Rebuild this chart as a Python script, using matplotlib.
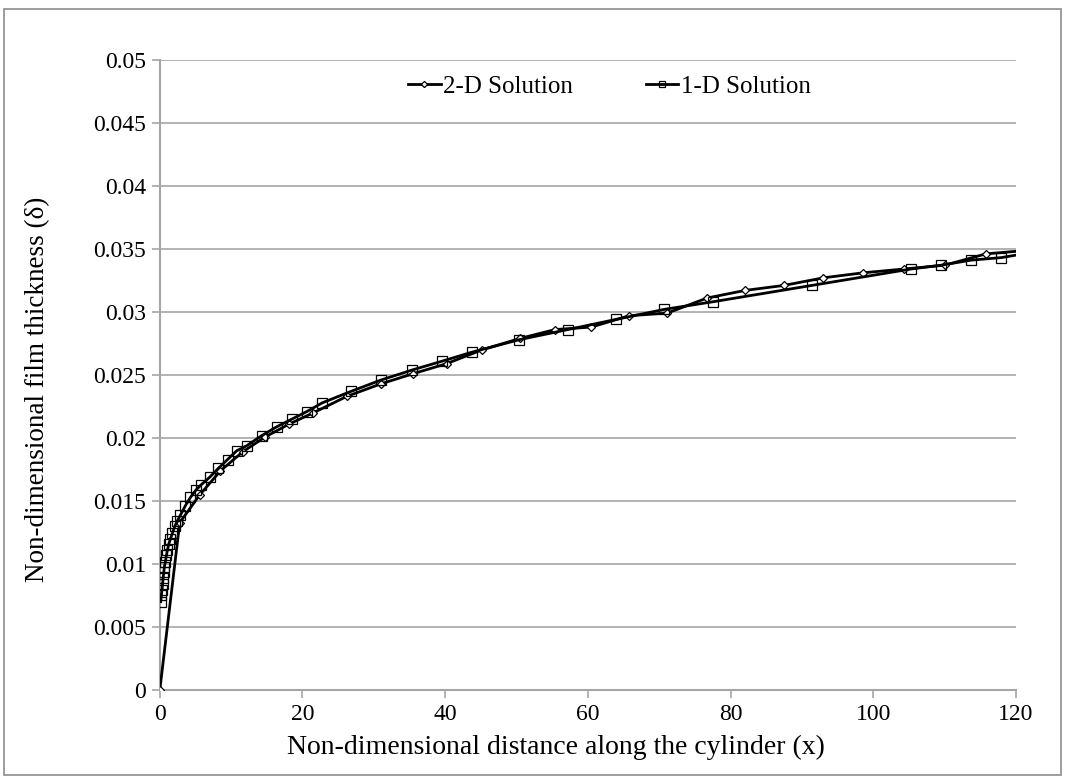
import matplotlib
matplotlib.use('Agg')
import matplotlib.pyplot as plt
from matplotlib.patches import Rectangle

plt.rcParams['font.family'] = ['Liberation Serif', 'DejaVu Serif']

# 2-D solution (diamonds)
x_2d = [0, 2.8, 5.6, 8.5, 11.6, 14.8, 18.1, 21.5, 26.2, 31.0, 35.5, 40.2, 45.2,
        50.5, 55.4, 60.5, 65.8, 71.1, 76.7, 82.0, 87.5, 93.0, 98.6, 104.3,
        110.0, 115.8, 120.0]
y_2d = [0, 0.0133, 0.0155, 0.0174, 0.0189, 0.0201, 0.0211, 0.0220, 0.0233,
        0.0243, 0.0251, 0.0259, 0.0270, 0.0279, 0.0286, 0.0288, 0.0297, 0.0299,
        0.0311, 0.0317, 0.0321, 0.0327, 0.0331, 0.0334, 0.0337, 0.0346, 0.0348]

# 1-D solution (squares)
x_1d = [0.14, 0.23, 0.33, 0.40, 0.47, 0.56, 0.65, 0.79, 0.93, 1.07, 1.26, 1.49,
        1.78, 2.1, 2.43, 2.9, 3.6, 4.3, 5.1, 5.8, 7.0, 8.2, 9.5, 10.8, 12.2,
        14.3, 16.4, 18.5, 20.6, 22.8, 26.8, 31.0, 35.4, 39.6, 43.7, 50.4, 57.2,
        63.9, 70.7, 77.5, 91.4, 105.3, 109.5, 113.7, 117.9, 120.0]
y_1d = [0.00704, 0.00757, 0.0080, 0.00845, 0.0089, 0.00935, 0.0098, 0.0102,
        0.0107, 0.0111, 0.0116, 0.0120, 0.01247, 0.0130, 0.0134, 0.0139,
        0.01465, 0.0153, 0.0159, 0.0163, 0.0169, 0.0176, 0.0183, 0.0190,
        0.0194, 0.0202, 0.0209, 0.0215, 0.0221, 0.0228, 0.0237, 0.0246,
        0.0254, 0.0261, 0.0268, 0.0278, 0.0286, 0.0294, 0.0302, 0.0308,
        0.0321, 0.0334, 0.0337, 0.0341, 0.0343, 0.0345]

x_ticks = [0, 20, 40, 60, 80, 100, 120]
y_ticks = [0, 0.005, 0.01, 0.015, 0.02, 0.025, 0.03, 0.035, 0.04, 0.045, 0.05]
y_tick_labels = ['0', '0.005', '0.01', '0.015', '0.02', '0.025', '0.03',
                 '0.035', '0.04', '0.045', '0.05']

fig = plt.figure(figsize=(10.65, 7.78), dpi=100)
ax = fig.add_axes([0.150, 0.1125, 0.804, 0.811])

grid_c = '#a6a6a6'
for yv in y_ticks[1:]:
    ax.axhline(yv, color=grid_c, lw=1.2, zorder=0)

ax.plot(x_2d, y_2d, color='black', lw=2, marker='D', ms=4.5,
        mfc='white', mec='black', mew=0.9, markevery=list(range(len(x_2d) - 1)),
        label='2-D Solution', zorder=3)
ax.plot(x_1d, y_1d, color='black', lw=2, marker='s', ms=7,
        mfc='none', mec='black', mew=0.9, markevery=list(range(len(x_1d) - 1)),
        label='1-D Solution', zorder=3)

ax.set_xlim(0, 120)
ax.set_ylim(0, 0.05)
ax.set_xticks(x_ticks)
ax.set_yticks(y_ticks)
ax.set_yticklabels(y_tick_labels)
ax.tick_params(axis='both', direction='out', length=6, width=1.2, color=grid_c,
               labelsize=17, pad=4)

for s in ['top', 'right']:
    ax.spines[s].set_visible(False)
for s in ['left', 'bottom']:
    ax.spines[s].set_color(grid_c)
    ax.spines[s].set_linewidth(1.5)

ax.set_xlabel('Non-dimensional distance along the cylinder (x)', fontsize=20)
ax.set_ylabel('Non-dimensional film thickness (δ)', fontsize=19.5)
ax.xaxis.set_label_coords(0.463, -0.071)
ax.yaxis.set_label_coords(-0.128, 0.478)

leg = ax.legend(loc='upper center', bbox_to_anchor=(0.525, 1.01), ncol=2, frameon=False,
                fontsize=18, handlelength=1.3, handletextpad=0.1, columnspacing=2.9,
                markerscale=0.7)

fig.patches.append(Rectangle((0.004, 0.004), 0.992, 0.985, transform=fig.transFigure,
                             fill=False, edgecolor='#8c8c8c', lw=1.2))

fig.savefig('out.png', dpi=100)
